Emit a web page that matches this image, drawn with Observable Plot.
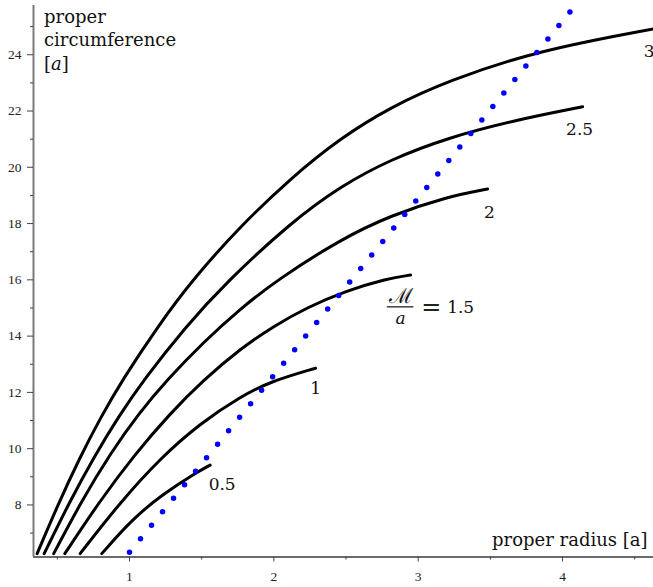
<!DOCTYPE html>
<html>
<head>
<meta charset="utf-8">
<script src="https://cdn.jsdelivr.net/npm/d3@7"></script>
<script src="https://cdn.jsdelivr.net/npm/@observablehq/plot@0.6"></script>
<style>
  html, body { margin: 0; padding: 0; background: #fff; }
  #chart svg { display: block; }
</style>
</head>
<body>
<div id="chart"></div>
<script>
// ---- data ----
const massRatios = ["0.5", "1", "1.5", "2", "2.5", "3"];

const radius05 = [0.808, 1.016, 1.224, 1.459, 1.559];
const circ05   = [6.27, 7.48, 8.36, 9.14, 9.415];

const radius10 = [0.658, 0.938, 1.215, 1.492, 1.769, 1.977, 2.289];
const circ10   = [6.27, 8.11, 9.67, 10.91, 11.85, 12.39, 12.86];

const radius15 = [0.552, 0.794, 1.037, 1.279, 1.515, 1.769, 2.000, 2.231, 2.497, 2.786, 2.947];
const circ15   = [6.27, 8.14, 9.80, 11.24, 12.45, 13.555, 14.36, 15.02, 15.605, 16.05, 16.17];

const radius20 = [0.475, 0.669, 0.870, 1.064, 1.261, 1.513, 1.769, 2.024, 2.462, 2.809, 3.204, 3.481];
const circ20   = [6.27, 8.15, 9.85, 11.25, 12.45, 13.79, 14.98, 16.00, 17.44, 18.29, 18.96, 19.23];

const radius25 = [0.409, 0.582, 0.755, 0.929, 1.099, 1.388, 1.672, 2.116, 2.462, 2.809, 3.204, 3.666, 4.139];
const circ25   = [6.27, 8.08, 9.72, 11.18, 12.45, 14.33, 15.92, 18.03, 19.33, 20.28, 21.05, 21.67, 22.15];

const radius30 = [0.360, 0.506, 0.651, 0.797, 0.951, 1.194, 1.437, 1.769, 2.116, 2.462, 2.809, 3.204, 3.827, 4.631];
const circ30   = [6.27, 8.03, 9.63, 11.08, 12.45, 14.33, 16.01, 17.91, 19.61, 21.04, 22.14, 23.07, 24.15, 24.92];

// flat-space reference (dotted blue), its two end points
const flatRadius = [1.0, 4.051];
const flatCirc   = [6.32, 25.52];

// axes
const xDomain = [0.335, 4.63];
const yDomain = [6.15, 25.75];
const xMajorTicks = [1, 2, 3, 4];
const xMinorTicks = [0.5, 1.5, 2.5, 3.5, 4.5];
const yMajorTicks = [8, 10, 12, 14, 16, 18, 20, 22, 24];
const yMinorTicks = [7, 9, 11, 13, 15, 17, 19, 21, 23, 25];

// curve labels (data positions of their centres)
const curveLabelText = ["0.5", "1", "2", "2.5"];
const curveLabelX    = [1.642, 2.289, 3.493, 4.118];
const curveLabelY    = [8.73, 12.15, 18.39, 21.34];
const lastLabelText = ["3"];
const lastLabelX = [4.562];
const lastLabelY = [24.12];

// the M/a = 1.5 label pieces
const fracNumer = ["ℳ"];   const fracNumerX = [2.878]; const fracNumerY = [15.40];
const fracDenom = ["a"];   const fracDenomX = [2.878]; const fracDenomY = [14.64];
const fracBarX1 = [2.786]; const fracBarX2 = [2.970]; const fracBarY = [15.04];
const fracEq    = ["="];   const fracEqX = [3.091];    const fracEqY = [15.03];
const fracVal   = ["1.5"]; const fracValX = [3.294];   const fracValY = [15.0];

const xTitle = "proper radius [a]";
const yTitle = "proper\ncircumference\n[a]";

// ---- build tables ----
const curveRadii = [radius05, radius10, radius15, radius20, radius25, radius30];
const curveCircs = [circ05, circ10, circ15, circ20, circ25, circ30];
const rows = [];
massRatios.forEach((m, i) => {
  curveRadii[i].forEach((r, j) => rows.push({mass: m, radius: r, circ: curveCircs[i][j]}));
});
const flatRows = flatRadius.map((r, i) => ({radius: r, circ: flatCirc[i]}));
const zip3 = (t, xs, ys) => t.map((s, i) => ({text: s, x: xs[i], y: ys[i]}));

const serif = "DejaVu Serif";
const tickFont = "Liberation Serif";

const plot = Plot.plot({
  width: 653,
  height: 587,
  marginLeft: 33,
  marginRight: 0,
  marginTop: 5,
  marginBottom: 30.5,
  x: {domain: xDomain},
  y: {domain: yDomain},
  style: {background: "white", fontFamily: serif, overflow: "visible"},
  marks: [
    // axis lines
    Plot.ruleX([xDomain[0]], {stroke: "#7a7a7a", strokeWidth: 2}),
    Plot.ruleY([yDomain[0]], {stroke: "#6a6a6a", strokeWidth: 2}),
    // y axis ticks
    Plot.axisY({ticks: yMajorTicks, tickSize: 6, tickPadding: 6, fontSize: 13.5, fontFamily: tickFont,
                stroke: "#444", fill: "#222", label: null, tickFormat: d => String(d)}),
    Plot.axisY({ticks: yMinorTicks, tickSize: 3, fontSize: 1, stroke: "#444", label: null, tickFormat: () => ""}),
    // x axis ticks
    Plot.axisX({ticks: xMajorTicks, tickSize: 5, tickPadding: 9, fontSize: 13.5, fontFamily: tickFont,
                stroke: "#444", fill: "#222", label: null, tickFormat: d => String(d)}),
    Plot.axisX({ticks: xMinorTicks, tickSize: 3, fontSize: 1, stroke: "#444", label: null, tickFormat: () => ""}),
    // curves
    Plot.line(rows, {x: "radius", y: "circ", z: "mass", stroke: "black", strokeWidth: 3, curve: "basis"}),
    // flat space dotted line
    Plot.line(flatRows, {x: "radius", y: "circ", stroke: "#0000ff", strokeWidth: 5.5,
                         strokeLinecap: "round", className: "flatline"}),
    // curve labels
    Plot.text(zip3(curveLabelText, curveLabelX, curveLabelY), {x: "x", y: "y", text: "text",
              fontSize: 17, fontFamily: serif, fill: "#111", textAnchor: "middle", lineAnchor: "middle"}),
    Plot.text(zip3(lastLabelText, lastLabelX, lastLabelY), {x: "x", y: "y", text: "text",
              fontSize: 17, fontFamily: serif, fill: "#111", textAnchor: "start", lineAnchor: "middle"}),
    Plot.text(zip3(fracNumer, fracNumerX, fracNumerY), {x: "x", y: "y", text: "text",
              fontSize: 21, fontFamily: serif, fill: "#111", textAnchor: "middle", lineAnchor: "middle"}),
    Plot.text(zip3(fracDenom, fracDenomX, fracDenomY), {x: "x", y: "y", text: "text",
              fontSize: 17, fontFamily: serif, fontStyle: "italic", fill: "#111", textAnchor: "middle", lineAnchor: "middle"}),
    Plot.ruleY(fracBarY.map((y, i) => ({y, x1: fracBarX1[i], x2: fracBarX2[i]})),
               {y: "y", x1: "x1", x2: "x2", stroke: "#111", strokeWidth: 1.2}),
    Plot.text(zip3(fracEq, fracEqX, fracEqY), {x: "x", y: "y", text: "text",
              fontSize: 24, fontFamily: serif, fill: "#222", textAnchor: "middle", lineAnchor: "middle"}),
    Plot.text(zip3(fracVal, fracValX, fracValY), {x: "x", y: "y", text: "text",
              fontSize: 17, fontFamily: serif, fill: "#111", textAnchor: "middle", lineAnchor: "middle"}),
    // axis titles
    Plot.text([xTitle], {frameAnchor: "bottom-right", dx: -6, dy: -11.5, textAnchor: "end", lineAnchor: "bottom",
              fontSize: 18, fontFamily: serif, fill: "#111"}),
    Plot.text([yTitle], {frameAnchor: "top-left", dx: 10.5, dy: 0.7, textAnchor: "start", lineAnchor: "top",
              lineHeight: 1.3, fontSize: 18, fontFamily: serif, fill: "#111", className: "ytitle"})
  ]
});

document.getElementById("chart").appendChild(plot);

// dotted pattern: 40 gaps between the dots along the flat-space line
d3.select(plot).selectAll(".flatline path").each(function () {
  const L = this.getTotalLength();
  d3.select(this).attr("stroke-dasharray", `0 ${L / 40}`);
});

// italic a in the y title
d3.select(plot).selectAll(".ytitle tspan").each(function () {
  if (this.textContent === "[a]") {
    const t = d3.select(this);
    t.text("[");
    t.append("tspan").attr("font-style", "italic").text("a");
    this.appendChild(document.createTextNode("]"));
  }
});
</script>
</body>
</html>
